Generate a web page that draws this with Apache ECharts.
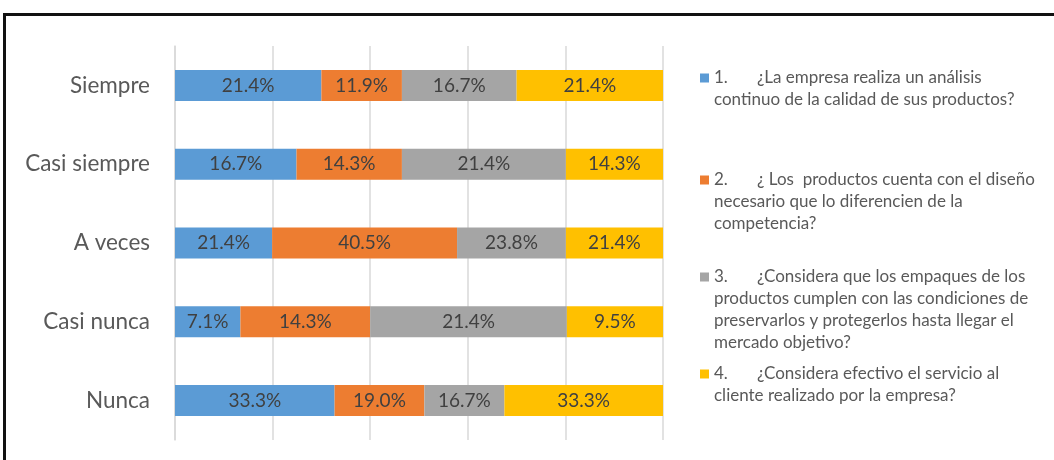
<!DOCTYPE html>
<html>
<head>
<meta charset="utf-8">
<script src="https://cdn.jsdelivr.net/npm/echarts@6/dist/echarts.min.js"></script>
<style>
  html, body { margin: 0; padding: 0; background: #fff; }
  #frame { position: absolute; left: 3px; top: 13px; width: 1200px; height: 600px;
           border-left: 3px solid #111; border-top: 3px solid #111; box-sizing: border-box; }
  #chart { position: absolute; left: 0; top: 0; width: 1054px; height: 460px; }
</style>
</head>
<body>
<div id="frame"></div>
<div id="chart"></div>
<script>
const categories = ['Siempre', 'Casi siempre', 'A veces', 'Casi nunca', 'Nunca'];
const seriesNames = ['1.', '2.', '3.', '4.'];
// label values (percent shown in each segment)
const q1 = [21.4, 16.7, 21.4, 7.1, 33.3];
const q2 = [11.9, 14.3, 40.5, 14.3, 19.0];
const q3 = [16.7, 21.4, 23.8, 21.4, 16.7];
const q4 = [21.4, 14.3, 21.4, 9.5, 33.3];
// segment length as share of each 100% bar
const s1 = [30.0, 24.9, 19.9, 13.4, 32.7];
const s2 = [16.5, 21.6, 37.9, 26.6, 18.4];
const s3 = [23.5, 33.6, 22.3, 40.3, 16.4];
const s4 = [30.0, 19.9, 19.9, 19.7, 32.5];
const legendLines = [
  ['¿La empresa realiza un análisis', 'continuo de la calidad de sus productos?'],
  ['¿ Los  productos cuenta con el diseño', 'necesario que lo diferencien de la', 'competencia?'],
  ['¿Considera que los empaques de los', 'productos cumplen con las condiciones de', 'preservarlos y protegerlos hasta llegar el', 'mercado objetivo?'],
  ['¿Considera efectivo el servicio al', 'cliente realizado por la empresa?']
];
const colors = ['#5B9BD5', '#ED7D31', '#A5A5A5', '#FFC000'];

const labelValues = [q1, q2, q3, q4];
const shareValues = [s1, s2, s3, s4];

const FONT = 'Lato, "Open Sans", sans-serif';
const LH = 22;
const LFS = 17;
const legendIconCenters = [78, 180, 277, 374];

const legends = seriesNames.map((name, k) => {
  const n = legendLines[k].length;
  return {
    data: [name],
    orient: 'vertical',
    left: 700,
    top: legendIconCenters[k] - (LH * n - LH / 2),
    padding: 0,
    icon: 'rect',
    itemWidth: 9,
    itemHeight: 9,
    selectedMode: false,
    formatter: (nm) => {
      const lines = legendLines[k];
      return '{n|' + nm + '}{t|' + lines[0] + '}' +
        lines.slice(1).map(l => '\n{t|' + l + '}').join('');
    },
    textStyle: {
      fontFamily: FONT,
      fontSize: LFS,
      color: '#595959',
      lineHeight: LH,
      padding: [LH * (n - 1), 0, 0, 0],
      rich: {
        n: { width: 43, fontFamily: FONT, fontSize: LFS, color: '#595959', lineHeight: LH },
        t: { fontFamily: FONT, fontSize: LFS, color: '#595959', lineHeight: LH }
      }
    }
  };
});

const option = {
  animation: false,
  color: colors,
  legend: legends,
  grid: { left: 175, right: 391, top: 46, bottom: 20, containLabel: false },
  xAxis: {
    type: 'value', min: 0, max: 100, interval: 20,
    axisLabel: { show: false }, axisTick: { show: false }, axisLine: { show: false },
    splitLine: { lineStyle: { color: '#d9d9d9', width: 1.5 } }
  },
  yAxis: {
    type: 'category', data: categories, inverse: true,
    axisTick: { show: false },
    axisLine: { show: true, lineStyle: { color: '#d9d9d9', width: 1.5 } },
    axisLabel: { fontFamily: FONT, fontSize: 22.5, color: '#595959', margin: 25 }
  },
  series: shareValues.map((arr, k) => ({
    name: seriesNames[k],
    type: 'bar',
    stack: 'total',
    barWidth: 31,
    data: arr,
    itemStyle: { color: colors[k] },
    label: {
      show: true, position: 'inside',
      fontFamily: FONT, fontSize: 19, color: '#404040',
      formatter: (p) => labelValues[k][p.dataIndex].toFixed(1) + '%'
    }
  }))
};

const chart = echarts.init(document.getElementById('chart'), null, { renderer: 'canvas' });
chart.setOption(option);
</script>
</body>
</html>
